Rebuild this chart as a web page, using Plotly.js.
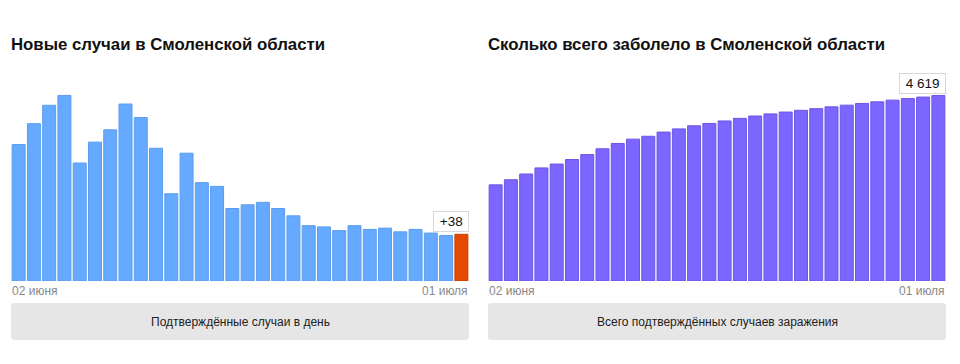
<!DOCTYPE html>
<html>
<head>
<meta charset="utf-8">
<script src="https://cdn.plot.ly/plotly-3.0.1.min.js"></script>
<style>
html,body{margin:0;padding:0;background:#fff;}
#chart{width:960px;height:364px;}
</style>
</head>
<body>
<div id="chart"></div>
<script>
// ---- data ----
var days = ["02.06","03.06","04.06","05.06","06.06","07.06","08.06","09.06","10.06","11.06",
            "12.06","13.06","14.06","15.06","16.06","17.06","18.06","19.06","20.06","21.06",
            "22.06","23.06","24.06","25.06","26.06","27.06","28.06","29.06","30.06","01.07"];
var newCases = [111,128,143,151,96,113,123,144,133,108,
                71,104,80,77,59,62,64,59,53,45,
                44,41,45,42,43,40,42,39,37,38];
var totalCases = [2395,2523,2666,2817,2913,3026,3149,3293,3426,3534,
                  3605,3709,3789,3866,3925,3987,4051,4110,4163,4208,
                  4252,4293,4338,4380,4423,4463,4505,4544,4581,4619];
var tickLabels = ["02 июня","01 июля"];
var titles = ["Новые случаи в Смоленской области","Сколько всего заболело в Смоленской области"];
var buttonLabels = ["Подтверждённые случаи в день","Всего подтверждённых случаев заражения"];
var lastNewLabel = "+38";
var lastTotalLabel = "4 619";

// ---- helpers ----
var W = 960, H = 364;
function px(x){return x/W;}
function py(y){return 1 - y/H;}
function roundRect(x0,y0,x1,y1,r){
  return "M"+px(x0+r)+","+py(y0)+
    " L"+px(x1-r)+","+py(y0)+
    " Q"+px(x1)+","+py(y0)+" "+px(x1)+","+py(y0+r)+
    " L"+px(x1)+","+py(y1-r)+
    " Q"+px(x1)+","+py(y1)+" "+px(x1-r)+","+py(y1)+
    " L"+px(x0+r)+","+py(y1)+
    " Q"+px(x0)+","+py(y1)+" "+px(x0)+","+py(y1-r)+
    " L"+px(x0)+","+py(y0+r)+
    " Q"+px(x0)+","+py(y0)+" "+px(x0+r)+","+py(y0)+" Z";
}

var blueFill = newCases.map(function(v,i){return i===newCases.length-1 ? "#E34A00" : "#66AAFF";});
var blueLine = newCases.map(function(v,i){return i===newCases.length-1 ? "#C84000" : "#5A9CEE";});

var traces = [
  {type:"bar", x:days, y:newCases, xaxis:"x", yaxis:"y",
   marker:{color:blueFill, line:{color:blueLine, width:1}}, hoverinfo:"none"},
  {type:"bar", x:days, y:totalCases, xaxis:"x2", yaxis:"y2",
   marker:{color:"#7D66FF", line:{color:"#6A55E6", width:1}}, hoverinfo:"none"}
];

var yDom = [py(281), py(70)];
var font = "'Liberation Sans', Arial, sans-serif";

var axX = {type:"category", showgrid:false, zeroline:false, showticklabels:false, showline:false, ticks:"", fixedrange:true};
var layout = {
  width:W, height:H, margin:{l:0,r:0,t:0,b:0},
  paper_bgcolor:"#fff", plot_bgcolor:"#fff",
  showlegend:false, bargap:0.15,
  font:{family:font},
  xaxis: Object.assign({domain:[px(11),px(469)], anchor:"y"}, axX),
  xaxis2: Object.assign({domain:[px(488),px(946)], anchor:"y2"}, axX),
  yaxis: {domain:yDom, range:[0,171.7], visible:false, fixedrange:true, anchor:"x"},
  yaxis2: {domain:yDom, range:[0,5256], visible:false, fixedrange:true, anchor:"x2"},
  shapes:[
    {type:"path", xref:"paper", yref:"paper", path:roundRect(11,303,469,340,3), fillcolor:"#E6E6E6", line:{width:0}, layer:"below"},
    {type:"path", xref:"paper", yref:"paper", path:roundRect(488,303,946,340,3), fillcolor:"#E6E6E6", line:{width:0}, layer:"below"}
  ],
  annotations:[
    {xref:"paper", yref:"paper", x:px(9), y:py(44), xanchor:"left", yanchor:"middle", showarrow:false,
     text:"<b>"+titles[0]+"</b>", font:{size:16.8, color:"#111", family:font}},
    {xref:"paper", yref:"paper", x:px(486), y:py(44), xanchor:"left", yanchor:"middle", showarrow:false,
     text:"<b>"+titles[1]+"</b>", font:{size:16.8, color:"#111", family:font}},
    {xref:"x domain", yref:"paper", x:0, y:py(291), xanchor:"left", yanchor:"middle", showarrow:false, xshift:-1,
     text:tickLabels[0], font:{size:12, color:"#888", family:font}},
    {xref:"x domain", yref:"paper", x:1, y:py(291), xanchor:"right", yanchor:"middle", showarrow:false, xshift:1,
     text:tickLabels[1], font:{size:12, color:"#888", family:font}},
    {xref:"x2 domain", yref:"paper", x:0, y:py(291), xanchor:"left", yanchor:"middle", showarrow:false, xshift:-1,
     text:tickLabels[0], font:{size:12, color:"#888", family:font}},
    {xref:"x2 domain", yref:"paper", x:1, y:py(291), xanchor:"right", yanchor:"middle", showarrow:false, xshift:1,
     text:tickLabels[1], font:{size:12, color:"#888", family:font}},
    {xref:"paper", yref:"paper", x:px(240), y:py(322), xanchor:"center", yanchor:"middle", showarrow:false,
     text:buttonLabels[0], font:{size:12, color:"#222", family:font}},
    {xref:"paper", yref:"paper", x:px(717), y:py(322), xanchor:"center", yanchor:"middle", showarrow:false,
     text:buttonLabels[1], font:{size:12, color:"#222", family:font}},
    {xref:"x domain", yref:"y", x:1, y:newCases[newCases.length-1], xanchor:"right", yanchor:"bottom", yshift:2,
     showarrow:false, text:"&nbsp;"+lastNewLabel+"&nbsp;", font:{size:13.5, color:"#111", family:font},
     bgcolor:"#fff", bordercolor:"#D8D8D8", borderwidth:1, borderpad:2},
    {xref:"x2 domain", yref:"y2", x:1, y:totalCases[totalCases.length-1], xanchor:"right", yanchor:"bottom", yshift:2,
     showarrow:false, text:"&nbsp;"+lastTotalLabel+"&nbsp;", font:{size:13.5, color:"#111", family:font},
     bgcolor:"#fff", bordercolor:"#D8D8D8", borderwidth:1, borderpad:2}
  ]
};

Plotly.newPlot("chart", traces, layout, {staticPlot:true, displayModeBar:false});
</script>
</body>
</html>
